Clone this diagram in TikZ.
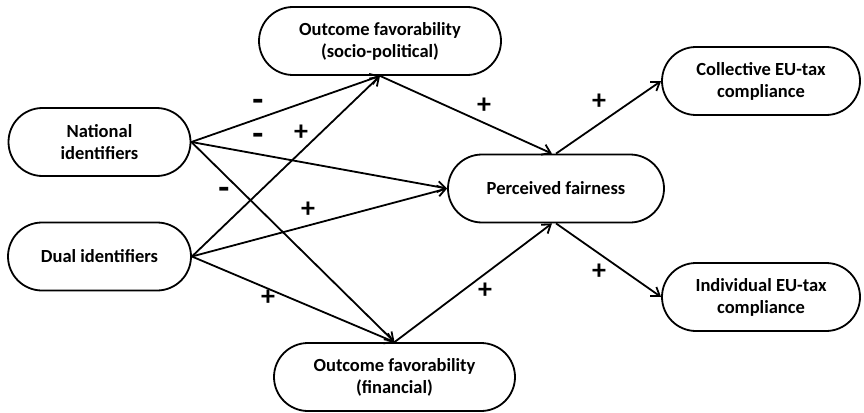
\documentclass[tikz,border=0pt]{standalone}
\usepackage{fontspec}
\setmainfont{Carlito}
\usetikzlibrary{arrows.meta,shapes.misc}

\begin{document}
\begin{tikzpicture}[x=1pt,y=-1pt,>={Straight Barb[length=8pt,width=11pt]},line width=1.8pt]
  \tikzstyle{var}=[draw,rounded rectangle,minimum height=68pt,inner sep=2pt,align=center,fill=white,font=\bfseries\fontsize{18.5}{22}\selectfont]
  \tikzstyle{sign}=[inner sep=0pt,font=\bfseries\fontsize{28}{28}\selectfont]
  \tikzstyle{neg}=[sign,font=\bfseries\fontsize{36}{36}\selectfont]
  \useasboundingbox (0,0) rectangle (864,412);
  % variables
  \node[var,minimum width=186pt] (N)  at (99.5,142)  {National\\identifiers};
  \node[var,minimum width=187pt] (D)  at (99.5,256.5) {Dual identifiers};
  \node[var,minimum width=246pt] (SP) at (380,41)    {Outcome favorability\\(socio-political)};
  \node[var,minimum width=245pt] (FI) at (394.5,377) {Outcome favorability\\(financial)};
  \node[var,minimum width=220pt] (PF) at (556,188.5) {Perceived fairness};
  \node[var,minimum width=202pt] (CO) at (761,81)    {Collective EU-tax\\compliance};
  \node[var,minimum width=202pt] (IN) at (761,297)   {Individual EU-tax\\compliance};
  % paths
  \path[->]
    (N.east) edge (SP.south)
    (N.east) edge (PF.west)
    (N.east) edge (FI.north)
    (D.east) edge (SP.south)
    (D.east) edge (PF.west)
    (D.east) edge (FI.north)
    (SP.south) edge ([xshift=-4pt]PF.north)
    (FI.north) edge ([xshift=-4pt]PF.south)
    (PF.north) edge (CO.west)
    (PF.south) edge (IN.west);
  % signs
  \node[neg]  (s1) at (258,105) {-};
  \node[neg]  (s2) at (258,139) {-};
  \node[sign] (s3) at (301,133) {+};
  \node[neg]  (s4) at (224,193) {-};
  \node[sign] (s5) at (308,210) {+};
  \node[sign] (s6) at (268,298) {+};
  \node[sign] (s7) at (484,106) {+};
  \node[sign] (s8) at (485,291) {+};
  \node[sign] (s9) at (599,102) {+};
  \node[sign] (s10) at (599,272) {+};
\end{tikzpicture}
\end{document}
